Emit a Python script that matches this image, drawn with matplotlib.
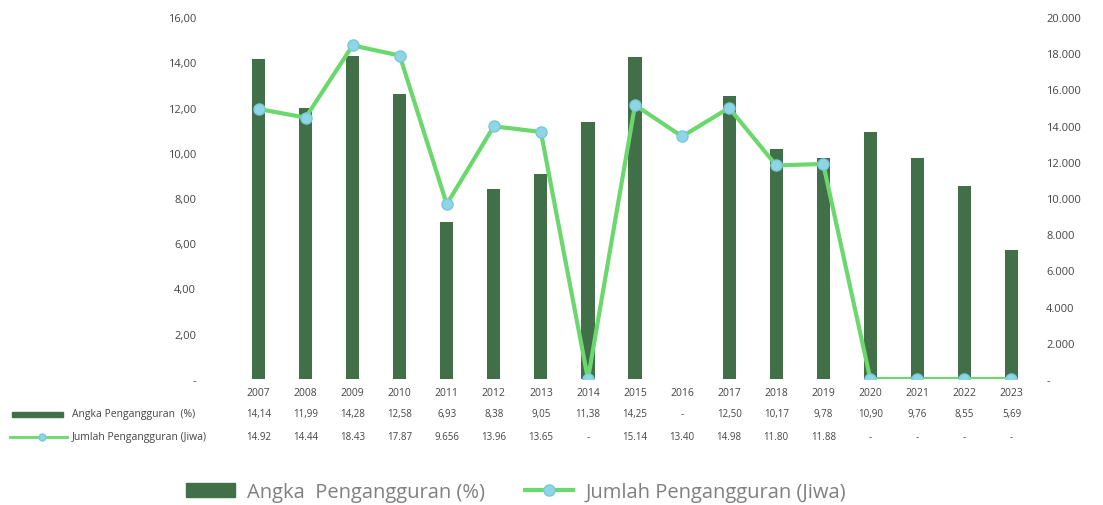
import matplotlib.pyplot as plt
import matplotlib.transforms as mtransforms
from matplotlib.lines import Line2D
from matplotlib.patches import Patch
from matplotlib.ticker import FixedLocator, FuncFormatter

plt.rcParams['font.family'] = ['Open Sans', 'DejaVu Sans']

years = ['2007', '2008', '2009', '2010', '2011', '2012', '2013', '2014', '2015',
         '2016', '2017', '2018', '2019', '2020', '2021', '2022', '2023']
angka = [14.14, 11.99, 14.28, 12.58, 6.93, 8.38, 9.05, 11.38, 14.25,
         0, 12.50, 10.17, 9.78, 10.90, 9.76, 8.55, 5.69]
jumlah = [14920, 14440, 18430, 17870, 9656, 13960, 13650, 0, 15140,
          13400, 14980, 11800, 11880, 0, 0, 0, 0]
angka_labels = ['14,14', '11,99', '14,28', '12,58', '6,93', '8,38', '9,05', '11,38', '14,25',
                '-', '12,50', '10,17', '9,78', '10,90', '9,76', '8,55', '5,69']
jumlah_labels = ['14.92', '14.44', '18.43', '17.87', '9.656', '13.96', '13.65', '-', '15.14',
                 '13.40', '14.98', '11.80', '11.88', '-', '-', '-', '-']

bar_color = '#416f48'
line_color = '#6ad86c'
marker_color = '#8fd6e4'
marker_edge = '#78c8dc'
text_color = '#444444'

fig = plt.figure(figsize=(11.03, 5.06), dpi=100)
ax = fig.add_axes([235 / 1103, 1 - 380 / 506, 800 / 1103, 362 / 506])
x = list(range(len(years)))

ax.bar(x, angka, width=0.28, color=bar_color, zorder=2)
ax.set_xlim(-0.5, len(years) - 0.5)
ax.set_ylim(0, 16)
ax.yaxis.set_major_locator(FixedLocator(range(0, 17, 2)))
ax.yaxis.set_major_formatter(FuncFormatter(
    lambda v, p: '-' if v == 0 else f'{v:.2f}'.replace('.', ',')))
ax.set_xticks(x)
ax.set_xticklabels(years)

ax2 = ax.twinx()
ax2.plot(x, jumlah, color=line_color, lw=3, marker='o', ms=8,
         mfc=marker_color, mec=marker_edge, mew=1, zorder=3)
ax2.set_ylim(0, 20000)
ax2.yaxis.set_major_locator(FixedLocator(range(0, 20001, 2000)))
ax2.yaxis.set_major_formatter(FuncFormatter(
    lambda v, p: '-' if v == 0 else f'{int(v):,}'.replace(',', '.')))

for a in (ax, ax2):
    for s in a.spines.values():
        s.set_visible(False)
    a.tick_params(length=0, labelsize=8, labelcolor=text_color)
ax.tick_params(axis='y', pad=28)
ax2.tick_params(axis='y', pad=8)
ax.tick_params(axis='x', pad=6, labelsize=7.5)

# data table below the axis
trans = mtransforms.blended_transform_factory(ax.transData, fig.transFigure)
row1_y = 1 - 415 / 506
row2_y = 1 - 438 / 506
for i in x:
    fig.text(i, row1_y, angka_labels[i], transform=trans, ha='center', va='center',
             fontsize=7, color=text_color)
    fig.text(i, row2_y, jumlah_labels[i], transform=trans, ha='center', va='center',
             fontsize=7, color=text_color)

fig.add_artist(plt.Rectangle((12 / 1103, row1_y - 2.5 / 506), 51 / 1103, 5 / 506,
                             color=bar_color, transform=fig.transFigure))
fig.text(72 / 1103, row1_y, 'Angka Pengangguran  (%)', fontsize=7.5, va='center',
         color=text_color)
fig.add_artist(Line2D([10 / 1103, 67 / 1103], [row2_y, row2_y], color=line_color, lw=2,
                      transform=fig.transFigure))
fig.add_artist(Line2D([42 / 1103], [row2_y], marker='o', ms=5, mfc=marker_color,
                      mec=marker_edge, transform=fig.transFigure))
fig.text(72 / 1103, row2_y, 'Jumlah Pengangguran (Jiwa)', fontsize=7.5, va='center',
         color=text_color)

handles = [Patch(color=bar_color, label='Angka  Pengangguran (%)'),
           Line2D([], [], color=line_color, lw=3, marker='o', ms=8, mfc=marker_color,
                  mec=marker_edge, label='Jumlah Pengangguran (Jiwa)')]
fig.legend(handles=handles, loc='center', bbox_to_anchor=(0.468, 1 - 493 / 506),
           ncol=2, frameon=False, fontsize=14.5, labelcolor='#808080',
           handlelength=2.4, handletextpad=0.6, columnspacing=2.0)

fig.savefig('out.png', dpi=100)
